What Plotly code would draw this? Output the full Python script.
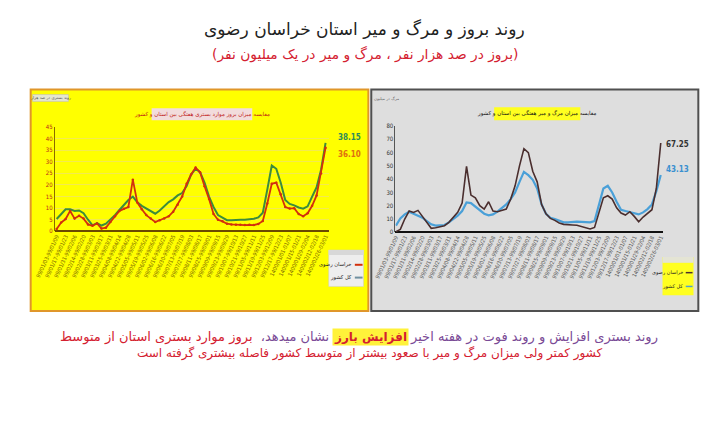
import plotly.graph_objects as go

W, H = 710, 441

# ---------------- data ----------------
week_labels = [
    "99/01/03-99/01/09", "99/01/17-99/01/23", "99/01/31-99/02/06", "99/02/14-99/02/20",
    "99/02/28-99/03/03", "99/03/11-99/03/17", "99/03/25-99/03/31", "99/04/08-99/04/14",
    "99/04/22-99/04/28", "99/05/05-99/05/11", "99/05/19-99/05/25", "99/06/02-99/06/08",
    "99/06/16-99/06/22", "99/06/30-99/07/05", "99/07/13-99/07/19", "99/07/27-99/08/03",
    "99/08/11-99/08/17", "99/08/25-99/09/01", "99/09/09-99/09/15", "99/09/23-99/09/29",
    "99/10/07-99/10/13", "99/10/21-99/10/27", "99/11/05-99/11/11", "99/11/19-99/11/25",
    "99/12/03-99/12/09", "99/12/17-99/12/23", "1400/01/01-01/07", "1400/01/15-01/21",
    "1400/01/29-02/04", "1400/02/12-02/18", "1400/02/26-03/01",
]
tick_idx = [i * 2 for i in range(len(week_labels))]

# hospitalisation incidence per 100k (left chart)
hosp_khorasan = [1, 3.8, 5.3, 8.8, 5.5, 6.7, 5.5, 3, 2.4, 3.4,
                 1.2, 1.6, 4, 6.5, 8.8, 9.7, 10.5, 22.3, 12.4, 9.5,
                 7, 5.5, 4, 4.8, 5.5, 6.5, 8.5, 11.5, 15, 20.5,
                 24.5, 27.5, 25.5, 19.5, 14, 7.5, 5, 4.3, 3.3, 3,
                 2.8, 2.8, 2.7, 2.8, 2.7, 3.2, 4.5, 12, 20.5, 21,
                 16, 10.5, 9.8, 10, 7.5, 6.5, 7.8, 11, 15.5, 25, 36.10]
hosp_country = [5.3, 7.5, 9.5, 9.5, 8.8, 9.0, 7.8, 5.0, 2.6, 3.5,
                2.5, 3.3, 5.0, 7.0, 9.2, 11.5, 13.5, 15.0, 12.5, 11,
                9.8, 8.6, 7.6, 9, 10.8, 12.6, 13.8, 15.5, 16.5, 19.5,
                24.5, 27, 25.5, 21, 15, 10.5, 7, 5.8, 4.8, 4.8,
                5, 5, 5, 5.2, 5.4, 6, 8, 18, 28.4, 27,
                21, 13.5, 11.8, 11.2, 10.3, 9.8, 10.8, 15, 19, 26.6, 38.15]

# mortality per 1 million (right chart)
death_khorasan = [0.5, 2.2, 10, 16, 15, 16.5, 12, 7.5, 3, 3.5,
                  4, 5, 7.5, 11, 15, 22, 49.7, 28, 26, 20,
                  17.5, 23, 16, 15.5, 16.5, 17.5, 25, 35, 50, 63,
                  60, 46, 38, 21, 14, 10.5, 9, 7, 6, 5.5,
                  5.5, 5.3, 4.5, 3.5, 2.5, 3.7, 15, 26, 27.5, 25,
                  18.5, 14.5, 13, 15.5, 12, 8, 11.5, 14, 17, 33, 67.25]
death_country = [5, 10.5, 13.5, 15.5, 14, 12.5, 11, 8.5, 6, 5,
                 5, 5.5, 7.5, 10, 12.5, 16, 22.5, 22, 19.5, 16.5,
                 14, 12.8, 13.5, 15.5, 18, 21, 25, 30, 38, 45.5,
                 43, 39.5, 33, 21, 14, 11, 10, 8.5, 7.5, 7.5,
                 7.8, 8, 7.8, 7.5, 7.5, 8.5, 20, 33, 35, 30,
                 23, 17, 16, 15, 14, 13.5, 15, 17.5, 21, 31, 43.13]

series_names = ["خراسان رضوی", "کل کشور"]
xs = list(range(len(hosp_khorasan)))


def X(px):
    return px / W


def Y(py):
    return 1 - py / H


fig = go.Figure()

# ---------------- traces ----------------
fig.add_trace(go.Scatter(x=xs, y=hosp_country, mode="lines", name=series_names[1],
                         line=dict(color="#3c8c3c", width=2), xaxis="x", yaxis="y"))
fig.add_trace(go.Scatter(x=xs, y=hosp_khorasan, mode="lines+markers", name=series_names[0],
                         line=dict(color="#d2300c", width=1.8),
                         marker=dict(size=2.5, color="#d2300c"), xaxis="x", yaxis="y"))
fig.add_trace(go.Scatter(x=xs, y=death_country, mode="lines", name=series_names[1],
                         line=dict(color="#4aa0d8", width=2.2), xaxis="x2", yaxis="y2"))
fig.add_trace(go.Scatter(x=xs, y=death_khorasan, mode="lines", name=series_names[0],
                         line=dict(color="#4a2e2e", width=1.6), xaxis="x2", yaxis="y2"))

tickfont_l = dict(size=5.5, color="#7a6600", family="DejaVu Sans Condensed, DejaVu Sans")
tickfont_r = dict(size=5.5, color="#555555", family="DejaVu Sans Condensed, DejaVu Sans")

fig.update_layout(
    width=W, height=H, autosize=False,
    margin=dict(l=0, r=0, t=0, b=0),
    paper_bgcolor="white", plot_bgcolor="rgba(0,0,0,0)",
    showlegend=False,
    xaxis=dict(domain=[X(35), X(318)], range=[-0.4, 60.7], tickvals=tick_idx, anchor="y",
               ticktext=week_labels, tickangle=-65, tickfont=tickfont_l,
               showgrid=False, zeroline=False, showline=False, ticks=""),
    yaxis=dict(domain=[Y(231), Y(125)], range=[0, 45], dtick=5, anchor="x",
               tickfont=dict(size=6, color="#b8281c", family="DejaVu Sans Condensed"),
               showgrid=True, gridcolor="#f3ea50", gridwidth=0.8, zeroline=True,
               zerolinecolor="#6b4a00", zerolinewidth=2,
               showline=True, linecolor="#8a6a00", linewidth=1, ticks=""),
    xaxis2=dict(domain=[X(387), X(663)], range=[-0.1, 60.4], tickvals=tick_idx, anchor="y2",
                ticktext=week_labels, tickangle=-65, tickfont=tickfont_r,
                showgrid=False, zeroline=False, showline=False, ticks=""),
    yaxis2=dict(domain=[Y(232), Y(124)], range=[0, 80], dtick=10, anchor="x2",
                tickfont=dict(size=6, color="#333333", family="DejaVu Sans Condensed"),
                showgrid=False, zeroline=True, zerolinecolor="#111111", zerolinewidth=2,
                showline=True, linecolor="#555555", linewidth=1, ticks=""),
)

shapes = []
# panels
shapes.append(dict(type="rect", xref="paper", yref="paper", x0=X(10), x1=X(359), y0=Y(312), y1=Y(87),
                   fillcolor="#ffff00", line=dict(color="#e0962a", width=2), layer="below"))
shapes.append(dict(type="rect", xref="paper", yref="paper", x0=X(362), x1=X(700), y0=Y(312), y1=Y(87),
                   fillcolor="#dedede", line=dict(color="#505050", width=2), layer="below"))
# chart title boxes
shapes.append(dict(type="rect", xref="paper", yref="paper", x0=X(135), x1=X(239), y0=Y(118), y1=Y(106),
                   fillcolor="#f2dcdc", line=dict(width=0), layer="below"))
shapes.append(dict(type="rect", xref="paper", yref="paper", x0=X(489), x1=X(578), y0=Y(118), y1=Y(105),
                   fillcolor="#ffff20", line=dict(width=0), layer="below"))
# tiny corner label box
shapes.append(dict(type="rect", xref="paper", yref="paper", x0=X(12), x1=X(49), y0=Y(99), y1=Y(92),
                   fillcolor="#e6e6d0", line=dict(color="#bbbbbb", width=0.5), layer="below"))
# legends
shapes.append(dict(type="rect", xref="paper", yref="paper", x0=X(318), x1=X(354), y0=Y(287), y1=Y(250),
                   fillcolor="#eeeeee", line=dict(color="#cccccc", width=0.5), layer="below"))
shapes.append(dict(type="rect", xref="paper", yref="paper", x0=X(318), x1=X(354), y0=Y(255), y1=Y(250),
                   fillcolor="#d8d8d8", line=dict(width=0), layer="below"))
shapes.append(dict(type="rect", xref="paper", yref="paper", x0=X(663), x1=X(695), y0=Y(296), y1=Y(257),
                   fillcolor="#ffff20", line=dict(width=0), layer="below"))
shapes.append(dict(type="rect", xref="paper", yref="paper", x0=X(663), x1=X(695), y0=Y(263), y1=Y(257),
                   fillcolor="#e4e4d4", line=dict(width=0), layer="below"))
# legend symbols
shapes.append(dict(type="line", xref="paper", yref="paper", x0=X(345), x1=X(353), y0=Y(265), y1=Y(265),
                   line=dict(color="#d2300c", width=2)))
shapes.append(dict(type="line", xref="paper", yref="paper", x0=X(345), x1=X(353), y0=Y(278), y1=Y(278),
                   line=dict(color="#7090a0", width=2)))
shapes.append(dict(type="line", xref="paper", yref="paper", x0=X(687), x1=X(694), y0=Y(273), y1=Y(273),
                   line=dict(color="#4a2e2e", width=1.5)))
shapes.append(dict(type="line", xref="paper", yref="paper", x0=X(687), x1=X(694), y0=Y(287), y1=Y(287),
                   line=dict(color="#4aa0d8", width=1.5)))
fig.update_layout(shapes=shapes)

fa = "DejaVu Sans"
ann = []
ann.append(dict(text="روند بروز و مرگ و میر استان خراسان رضوی", x=X(355), y=Y(25),
                font=dict(size=17, color="#222222", family=fa)))
ann.append(dict(text="(بروز در صد هزار نفر ، مرگ و میر در یک میلیون نفر)", x=X(355), y=Y(51),
                font=dict(size=13.8, color="#d42030", family=fa)))
ann.append(dict(text="مقایسه میزان بروز موارد بستری هفتگی بین استان و کشور", x=X(187), y=Y(112),
                font=dict(size=5.5, color="#c01818", family=fa)))
ann.append(dict(text="مقایسه میزان مرگ و میر هفتگی بین استان و کشور", x=X(533), y=Y(111.5),
                font=dict(size=5.5, color="#111111", family=fa)))
ann.append(dict(text="روند بستری در صد هزار", x=X(30.5), y=Y(95.5),
                font=dict(size=4, color="#555555", family=fa)))
ann.append(dict(text="مرگ در میلیون", x=X(378), y=Y(96),
                font=dict(size=4, color="#666666", family=fa)))
# legends text
ann.append(dict(text=series_names[0], x=X(344), y=Y(265), xanchor="right",
                font=dict(size=5.2, color="#222222", family=fa)))
ann.append(dict(text=series_names[1], x=X(344), y=Y(278), xanchor="right",
                font=dict(size=5.2, color="#222222", family=fa)))
ann.append(dict(text=series_names[0], x=X(686), y=Y(273), xanchor="right",
                font=dict(size=5, color="#222222", family=fa)))
ann.append(dict(text=series_names[1], x=X(686), y=Y(287), xanchor="right",
                font=dict(size=5, color="#222222", family=fa)))

# end-value labels (from the data)
nf = "Liberation Sans Narrow, DejaVu Sans Condensed"
ann.append(dict(text=f"<b>{hosp_country[-1]:.2f}</b>", x=xs[-1], y=hosp_country[-1], xref="x", yref="y",
                xanchor="left", xshift=10, yshift=5, font=dict(size=8, color="#2e8a5a", family=nf)))
ann.append(dict(text=f"<b>{hosp_khorasan[-1]:.2f}</b>", x=xs[-1], y=hosp_khorasan[-1], xref="x", yref="y",
                xanchor="left", xshift=10, yshift=-7, font=dict(size=8, color="#e07010", family=nf)))
ann.append(dict(text=f"<b>{death_khorasan[-1]:.2f}</b>", x=xs[-1], y=death_khorasan[-1], xref="x2", yref="y2",
                xanchor="left", xshift=3, yshift=-2, font=dict(size=8, color="#333333", family=nf)))
ann.append(dict(text=f"<b>{death_country[-1]:.2f}</b>", x=xs[-1], y=death_country[-1], xref="x2", yref="y2",
                xanchor="left", xshift=3, yshift=6, font=dict(size=8, color="#3a90d0", family=nf)))

# caption
purple = "#7a4a96"
red = "#d42030"
cs = 13
ann.append(dict(text="روند بستری افزایش و روند فوت در هفته اخیر", x=X(400), y=Y(338), xanchor="left",
                font=dict(size=cs, color=purple, family=fa)))
ann.append(dict(text="<b>افزایش بارز</b>", x=X(361), y=Y(338), bgcolor="#fff23a", borderpad=1,
                font=dict(size=12, color=red, family=fa)))
ann.append(dict(text=(f"<span style='color:{purple}'>نشان میدهد، </span> "
                      f"<span style='color:{red}'>بروز موارد بستری استان از متوسط</span>"),
                x=X(320), y=Y(338), xanchor="right", font=dict(size=cs, family=fa)))
ann.append(dict(text="کشور کمتر ولی میزان مرگ و میر با صعود بیشتر از متوسط کشور فاصله بیشتری گرفته است",
                x=X(360), y=Y(355), font=dict(size=12, color=red, family=fa)))

for a in ann:
    a.setdefault("xref", "paper")
    a.setdefault("yref", "paper")
    a.setdefault("showarrow", False)
    a.setdefault("xanchor", "center")
    a.setdefault("yanchor", "middle")
fig.update_layout(annotations=ann)

fig.write_html("out.html", post_script="document.body.style.margin='0';",
               config={"displayModeBar": False})
